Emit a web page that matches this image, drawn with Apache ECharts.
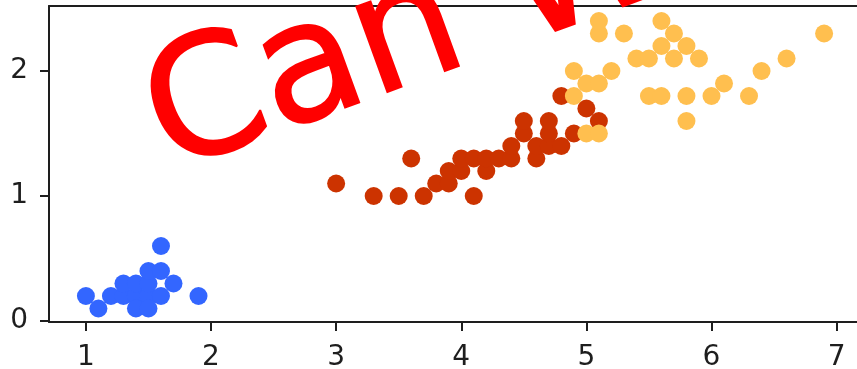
<!DOCTYPE html>
<html>
<head>
<meta charset="utf-8">
<script src="https://cdn.jsdelivr.net/npm/echarts@6/dist/echarts.min.js"></script>
<style>
  html, body { margin: 0; padding: 0; background: #ffffff; }
  #chart { width: 857px; height: 369px; }
</style>
</head>
<body>
<div id="chart"></div>
<script>
// Petal length (x) and petal width (y), one pair of arrays per species
const setosaLength = [1.0, 1.1, 1.2, 1.3, 1.4, 1.5, 1.6, 1.9, 1.3, 1.4, 1.5, 1.7, 1.4, 1.5, 1.5, 1.6, 1.6];
const setosaWidth  = [0.2, 0.1, 0.2, 0.2, 0.2, 0.2, 0.2, 0.2, 0.3, 0.3, 0.3, 0.3, 0.1, 0.1, 0.4, 0.4, 0.6];

const versicolorLength = [3.0, 3.3, 3.5, 3.6, 3.7, 3.8, 3.9, 3.9, 4.0, 4.0, 4.1, 4.1, 4.2, 4.2, 4.3,
                          4.4, 4.4, 4.5, 4.5, 4.6, 4.6, 4.7, 4.7, 4.7, 4.8, 4.8, 4.9, 5.0, 5.1];
const versicolorWidth  = [1.1, 1.0, 1.0, 1.3, 1.0, 1.1, 1.1, 1.2, 1.2, 1.3, 1.0, 1.3, 1.2, 1.3, 1.3,
                          1.3, 1.4, 1.5, 1.6, 1.3, 1.4, 1.4, 1.5, 1.6, 1.4, 1.8, 1.5, 1.7, 1.6];

const virginicaLength = [4.9, 5.0, 5.1, 5.0, 5.1, 4.9, 5.2, 5.1, 5.1, 5.3, 5.4, 5.5, 5.6, 5.6,
                         5.7, 5.7, 5.8, 5.9, 5.5, 5.6, 5.8, 5.8, 6.0, 6.1, 6.3, 6.4, 6.6, 6.9];
const virginicaWidth  = [1.8, 1.5, 1.5, 1.9, 1.9, 2.0, 2.0, 2.3, 2.4, 2.3, 2.1, 2.1, 2.2, 2.4,
                         2.3, 2.1, 2.2, 2.1, 1.8, 1.8, 1.8, 1.6, 1.8, 1.9, 1.8, 2.0, 2.1, 2.3];

const xTicks = [1, 2, 3, 4, 5, 6, 7];
const yTicks = [0, 1, 2];

const overlayText = 'Can W';

function pairs(xs, ys) {
  return xs.map((x, i) => [x, ys[i]]);
}

const FONT = 'DejaVu Sans';
const INK = '#1e1e1e';

const chart = echarts.init(document.getElementById('chart'), null, { renderer: 'canvas' });

function scatter(name, xs, ys, color) {
  return {
    name: name,
    type: 'scatter',
    data: pairs(xs, ys),
    symbol: 'circle',
    symbolSize: 18,
    itemStyle: { color: color, opacity: 1 },
    emphasis: { disabled: true },
    animation: false
  };
}

chart.setOption({
  animation: false,
  backgroundColor: '#ffffff',
  grid: { left: 49, top: 6, right: 0, bottom: 47, containLabel: false, outerBoundsMode: 'none' },
  xAxis: [
    {
      type: 'value',
      min: 0.705,
      max: 7.163,
      splitLine: { show: false },
      axisLine: { show: true, onZero: false, lineStyle: { color: INK, width: 2 } },
      axisTick: { show: true, length: 9, lineStyle: { color: INK, width: 2 }, customValues: xTicks },
      axisLabel: {
        show: true, margin: 22, color: INK, fontSize: 28, fontFamily: FONT,
        customValues: xTicks, formatter: v => String(v)
      }
    },
    {
      type: 'value',
      position: 'top',
      min: 0.705,
      max: 7.163,
      splitLine: { show: false },
      axisLine: { show: true, onZero: false, lineStyle: { color: INK, width: 2 } },
      axisTick: { show: false },
      axisLabel: { show: false }
    }
  ],
  yAxis: {
    type: 'value',
    min: -0.008,
    max: 2.52,
    splitLine: { show: false },
    axisLine: { show: true, onZero: false, lineStyle: { color: INK, width: 2 } },
    axisTick: { show: true, length: 9, lineStyle: { color: INK, width: 2 }, customValues: yTicks },
    axisLabel: {
      show: true, margin: 21, color: INK, fontSize: 28, fontFamily: FONT,
      customValues: yTicks, formatter: v => String(v)
    }
  },
  series: [
    scatter('setosa', setosaLength, setosaWidth, '#3366ff'),
    scatter('versicolor', versicolorLength, versicolorWidth, '#cc3300'),
    scatter('virginica', virginicaLength, virginicaWidth, '#ffbf4f')
  ],
  graphic: [
    {
      type: 'text',
      x: 154,
      y: 131,
      rotation: 20 * Math.PI / 180,
      z: 100,
      silent: true,
      style: {
        text: overlayText,
        font: '166px "DejaVu Sans"',
        fill: '#ff0000',
        stroke: '#ff0000',
        lineWidth: 2,
        lineJoin: 'round',
        align: 'left',
        verticalAlign: 'middle',
        textAlign: 'left',
        textVerticalAlign: 'middle'
      }
    }
  ]
});
</script>
</body>
</html>
